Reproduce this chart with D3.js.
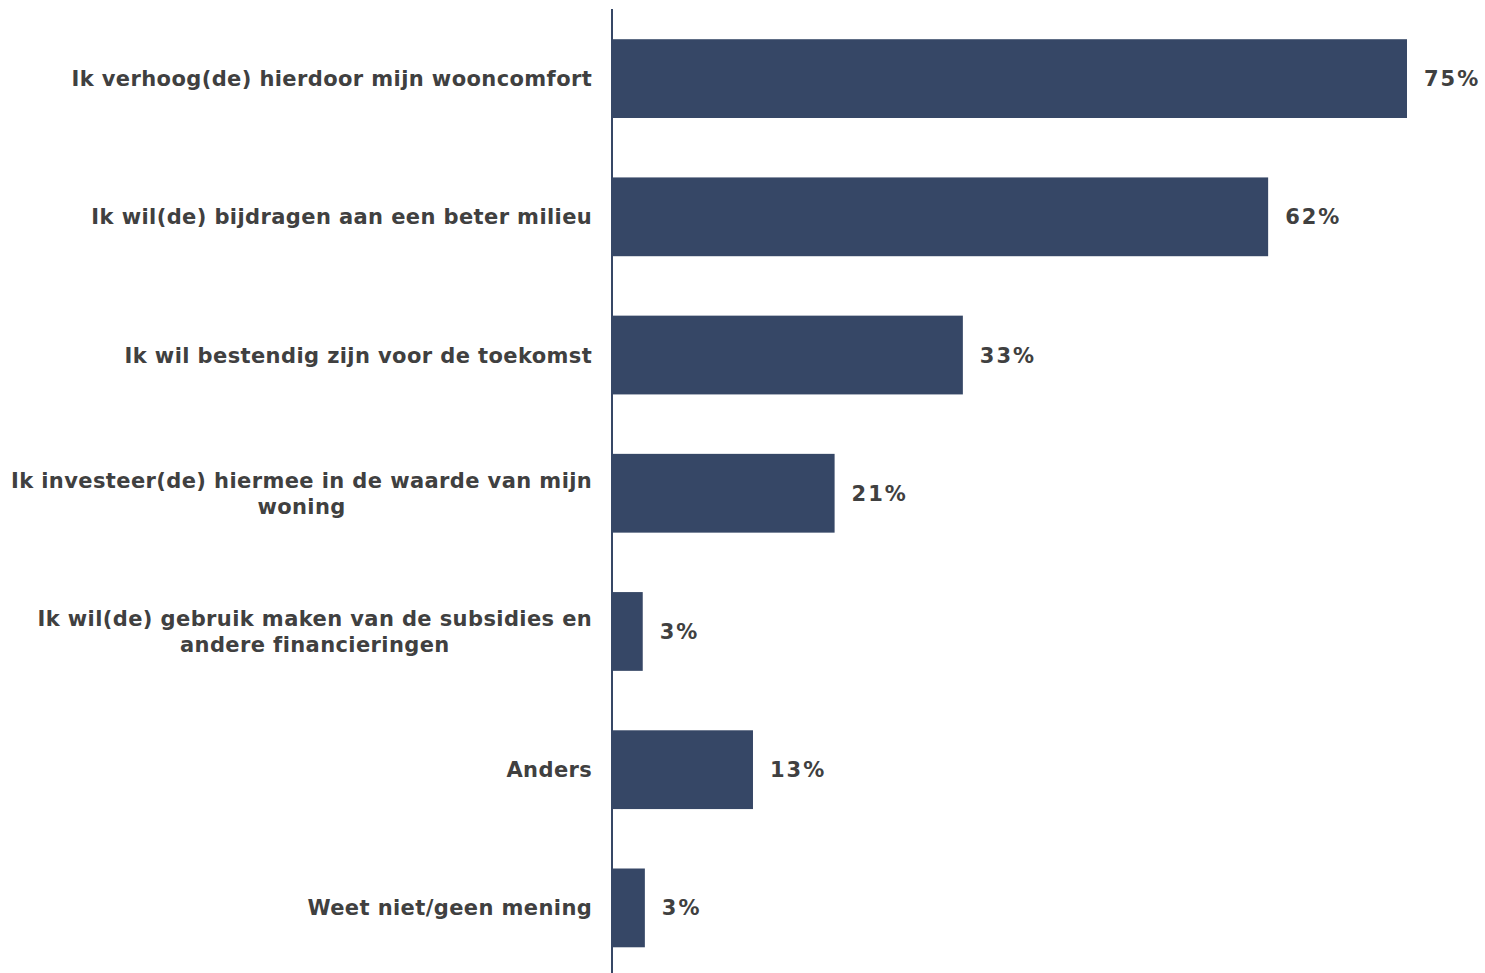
<!DOCTYPE html>
<html><head><meta charset="utf-8">
<script src="https://cdn.jsdelivr.net/npm/d3@7"></script>
<style>body{margin:0;background:#fff}svg{display:block}text{font-family:"DejaVu Sans",Verdana,sans-serif;font-weight:bold;fill:#404040}</style>
</head><body><svg id="c" width="1485" height="973"></svg>
<script>
const categories = [
  "Ik verhoog(de) hierdoor mijn wooncomfort",
  "Ik wil(de) bijdragen aan een beter milieu",
  "Ik wil bestendig zijn voor de toekomst",
  "Ik investeer(de) hiermee in de waarde van mijn\nwoning",
  "Ik wil(de) gebruik maken van de subsidies en\nandere financieringen",
  "Anders",
  "Weet niet/geen mening"
];
const values = [75, 61.9, 33.1, 21, 2.9, 13.3, 3.1];
const valueLabels = ["75%", "62%", "33%", "21%", "3%", "13%", "3%"];

const svg = d3.select("#c");
const x0 = 612;
const x = d3.scaleLinear().domain([0, 75]).range([x0, 1407]);
const y = d3.scaleBand().domain(categories).range([9.5, 977]).paddingInner(0.43).paddingOuter(0.215);
const fs = 21;

svg.selectAll("rect.bar").data(values).join("rect")
  .attr("x", x0).attr("y", (d, i) => y(categories[i]))
  .attr("width", d => x(d) - x0).attr("height", y.bandwidth())
  .attr("fill", "#364766");

svg.append("line").attr("x1", x0).attr("x2", x0).attr("y1", 9).attr("y2", 973)
  .attr("stroke", "#364766").attr("stroke-width", 2);

svg.selectAll("text.val").data(values).join("text")
  .attr("class", "val")
  .attr("x", d => x(d) + 17)
  .attr("y", (d, i) => y(categories[i]) + y.bandwidth() / 2)
  .attr("dy", "0.36em").attr("font-size", fs).attr("letter-spacing", 2)
  .text((d, i) => valueLabels[i]);

categories.forEach((c, i) => {
  const lines = c.split("\n");
  const cy = y(c) + y.bandwidth() / 2;
  const lh = 26;
  const g = svg.append("text").attr("font-size", fs).attr("letter-spacing", 0.4).attr("text-anchor", "middle");
  const tspans = lines.map((l, k) => g.append("tspan").text(l)
    .attr("y", cy + (k - (lines.length - 1) / 2) * lh).attr("dy", "0.36em"));
  const maxW = d3.max(tspans, t => t.node().getComputedTextLength()) - 0.4;
  tspans.forEach(t => t.attr("x", 592 - maxW / 2));
});
</script></body></html>
